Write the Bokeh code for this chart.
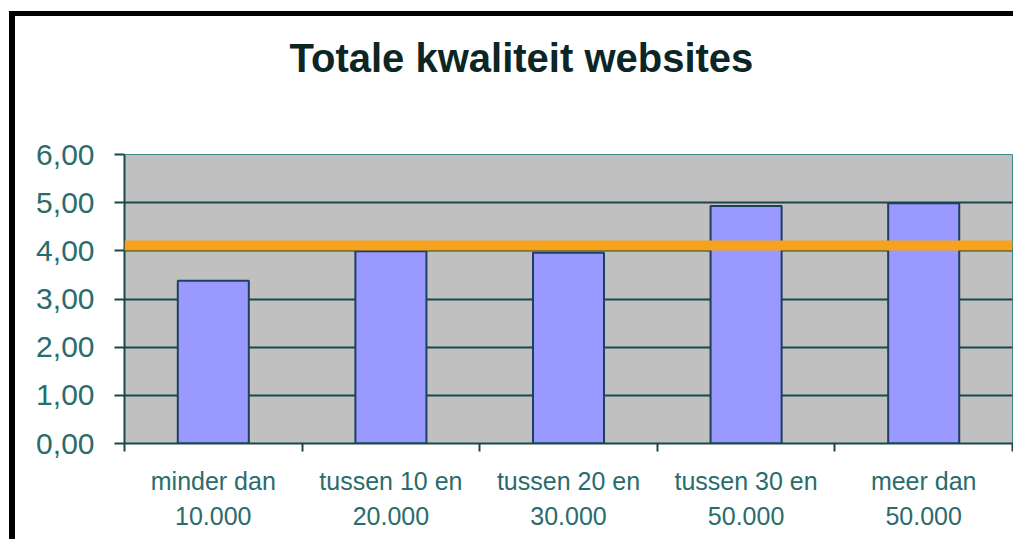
from bokeh.plotting import figure
from bokeh.models import FixedTicker, Span, Title
from bokeh.embed import file_html
from bokeh.resources import INLINE

title_text = "Totale kwaliteit websites"
categories = ["minder dan\n10.000", "tussen 10 en\n20.000", "tussen 20 en\n30.000",
              "tussen 30 en\n50.000", "meer dan\n50.000"]
values = [3.38, 3.99, 3.96, 4.93, 4.99]
average = 4.11
y_ticks = [0, 1, 2, 3, 4, 5, 6]
y_tick_labels = ["0,00", "1,00", "2,00", "3,00", "4,00", "5,00", "6,00"]

n = len(categories)
x_centers = [i + 0.5 for i in range(n)]
boundaries = list(range(n + 1))

TEXT = "#2a6c6c"
LINE = "#1a4848"

p = figure(width=1013, height=539, x_range=(0, n), y_range=(0, 6),
           output_backend="svg", toolbar_location=None,
           min_border_left=124, min_border_right=1, min_border_top=154, min_border_bottom=96)

p.background_fill_color = "#C0C0C0"
p.border_fill_color = None
p.outline_line_color = "#3f8a8a"
p.outline_line_width = 1
p.styles = {"box-shadow": "inset 9px 11px 0 0 white, inset 15px 16px 0 0 black"}

p.vbar(x=x_centers, top=values, width=0.4, fill_color="#9999FF",
       line_color="#1e3f5f", line_width=2)

p.add_layout(Span(location=average, dimension="width", line_color="#F7A21C", line_width=10))

# spacer between the title and the plot frame
p.add_layout(Title(text=" ", text_font_size="1px", standoff=72), "above")

# title
p.title.text = title_text
p.title.text_font = "Liberation Sans"
p.title.text_font_style = "bold"
p.title.text_font_size = "40px"
p.title.text_color = "#0c2626"
p.title.align = "left"
p.title.offset = 165
p.title.standoff = 0

# x axis
xa = p.xaxis[0]
xa.ticker = FixedTicker(ticks=x_centers, minor_ticks=boundaries)
xa.major_label_overrides = dict(zip(x_centers, categories))
xa.major_tick_out = 0
xa.major_tick_in = 0
xa.minor_tick_out = 8
xa.minor_tick_in = 0
xa.minor_tick_line_color = LINE
xa.minor_tick_line_width = 2
xa.axis_line_color = LINE
xa.axis_line_width = 2
xa.major_label_text_font = "Liberation Sans"
xa.major_label_text_font_size = "25px"
xa.major_label_text_color = TEXT
xa.major_label_text_line_height = 1.25
xa.major_label_standoff = 15

# y axis
ya = p.yaxis[0]
ya.ticker = FixedTicker(ticks=y_ticks, minor_ticks=[])
ya.major_label_overrides = dict(zip(y_ticks, y_tick_labels))
ya.major_tick_out = 10
ya.major_tick_in = 0
ya.major_tick_line_color = LINE
ya.major_tick_line_width = 2
ya.axis_line_color = LINE
ya.axis_line_width = 2
ya.major_label_text_font = "Liberation Sans"
ya.major_label_text_font_size = "30px"
ya.major_label_text_color = TEXT
ya.major_label_standoff = 20

p.xgrid.visible = False
p.ygrid.ticker = FixedTicker(ticks=y_ticks, minor_ticks=[])
p.ygrid.grid_line_color = LINE
p.ygrid.grid_line_width = 2
p.ygrid.grid_line_alpha = 1.0

open("out.html", "w").write(file_html(p, INLINE))
